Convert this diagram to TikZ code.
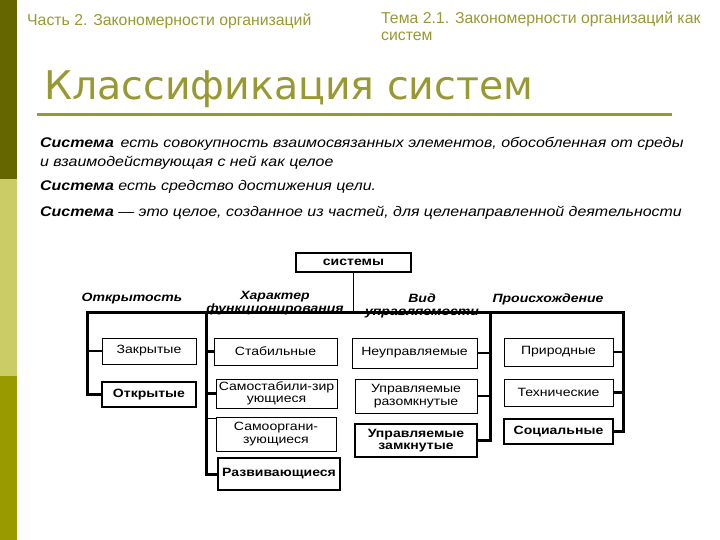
\documentclass[tikz,border=0pt]{standalone}
\usepackage{fontspec}
\setmainfont{Liberation Sans}
\newfontfamily\titlefont{DejaVu Sans}
\newfontfamily\deffont[FakeStretch=1.14]{Liberation Sans}
\newfontfamily\diagfont[FakeStretch=1.17]{Liberation Sans}
\usetikzlibrary{positioning}

\definecolor{olivedark}{HTML}{666600}
\definecolor{olivelight}{HTML}{CCCC66}
\definecolor{olivemid}{HTML}{999900}
\definecolor{olivetext}{HTML}{999933}

\begin{document}
\begin{tikzpicture}[x=1pt, y=-1pt,
  head/.style={font=\fontsize{15.8}{17}\selectfont, text=olivetext, inner sep=0pt},
  deftext/.style={font=\deffont\itshape\fontsize{14}{19}\selectfont, inner sep=0pt},
  box/.style={draw, line width=1pt, align=center, inner sep=1pt,
              font=\diagfont\fontsize{12}{12.5}\selectfont},
  keybox/.style={box, line width=2.5pt, font=\diagfont\bfseries\fontsize{12}{12.5}\selectfont},
  crit/.style={align=center, inner sep=0pt,
               font=\diagfont\bfseries\itshape\fontsize{12}{13}\selectfont},
  bus/.style={line width=3pt},
  branch/.style={line width=2.5pt},
  thinline/.style={line width=1pt}
]
\useasboundingbox (0,0) rectangle (720,540);
\fill[white] (0,0) rectangle (720,540);

% side bar
\fill[olivedark] (0,0) rectangle (17,179);
\fill[olivelight] (0,179) rectangle (17,376);
\fill[olivemid] (0,376) rectangle (17,540);

% header
\node[head, anchor=west] (part) at (27,21) {Часть 2. Закономерности организаций};
\node[head, anchor=north west, align=left] (topic) at (381,12)
  {Тема 2.1. Закономерности организаций как\\систем};
\node[anchor=west, inner sep=0pt, text=olivetext,
      font=\titlefont\fontsize{39.5}{41}\selectfont] (title) at (44,89) {Классификация систем};
\draw[olivetext, line width=3pt] (37,115) -- (672,115);

% definitions
\node[deftext, anchor=base west] (def1) at (40,148)
  {\textbf{Система}\, есть совокупность взаимосвязанных элементов, обособленная от среды};
\node[deftext, anchor=base west] (def1b) at (40,167) {и взаимодействующая с ней как целое};
\node[deftext, anchor=base west] (def2) at (40,191) {\textbf{Система} есть средство достижения цели.};
\node[deftext, anchor=base west] (def3) at (40,217)
  {\textbf{Система} — это целое, созданное из частей, для целенаправленной деятельности};

% root
\node[keybox, minimum width=115, minimum height=19] (sys) at (353.5,262.5) {системы};

% criteria
\node[crit] (openness) at (132,299) {Открытость};
\node[crit] (func) at (275,303.5) {Характер\\функционирования};
\node[crit] (ctrl) at (422,305.5) {Вид\\управляемости};
\node[crit] (origin) at (548,299) {Происхождение};

% openness
\node[box, minimum width=94, minimum height=26] (closed) at (149,351) {Закрытые};
\node[keybox, minimum width=94, minimum height=25] (open) at (149,394.5) {Открытые};

% functioning
\node[box, minimum width=123, minimum height=27] (stable) at (275.5,351.5) {Стабильные};
\node[box, minimum width=121, minimum height=29] (selfstab) at (276.5,393.5) {Самостабили-зир\\ующиеся};
\node[box, minimum width=120, minimum height=34] (selforg) at (276,434) {Самооргани-\\зующиеся};
\node[keybox, minimum width=122, minimum height=32] (develop) at (279,474) {Развивающиеся};

% control
\node[box, minimum width=125, minimum height=30] (unctrl) at (414.5,353) {Неуправляемые};
\node[box, minimum width=122, minimum height=34] (openloop) at (416,396) {Управляемые\\разомкнутые};
\node[keybox, minimum width=122, minimum height=33] (closedloop) at (416,440.5) {Управляемые\\замкнутые};

% origin
\node[box, minimum width=109, minimum height=28] (natural) at (558.5,352) {Природные};
\node[box, minimum width=109, minimum height=27] (tech) at (558.5,392.5) {Технические};
\node[keybox, minimum width=109, minimum height=25] (social) at (558.5,431.5) {Социальные};

% bus
\coordinate (c1) at (87,312);
\coordinate (c2) at (206,312);
\coordinate (c3) at (490,312);
\coordinate (c4) at (623,312);

\draw[thinline] (sys) -- (sys |- c1);
\draw[bus] (open.west) -| (c1) -- (c4) |- (social.east);
\draw[bus] (c2) |- (develop.west);
\draw[bus] (c3) |- (closedloop.east);

\draw[branch] (closed.west) -- (closed.west -| c1);
\draw[branch] (stable.west) -- (stable.west -| c2);
\draw[branch] (selfstab.west) -- (selfstab.west -| c2);
\draw[thinline] ([yshift=-1.5pt]selforg.north west) -- ([yshift=-1.5pt]selforg.north west -| c2);
\draw[branch] (unctrl.east) -- (unctrl.east -| c3);
\draw[branch] (openloop.east) -- (openloop.east -| c3);
\draw[branch] (natural.east) -- (natural.east -| c4);
\draw[branch] (tech.east) -- (tech.east -| c4);

\end{tikzpicture}
\end{document}
